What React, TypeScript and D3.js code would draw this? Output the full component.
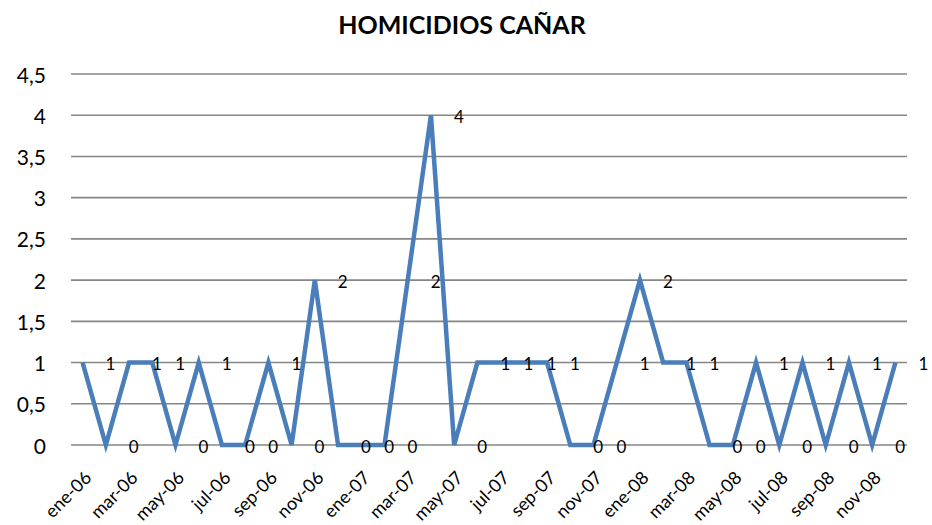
import React, { useEffect } from "react";
import * as d3 from "d3";

const months = ["ene", "feb", "mar", "abr", "may", "jun", "jul", "ago", "sep", "oct", "nov", "dic"];
const years = ["06", "07", "08"];
const categories: string[] = years.flatMap((y) => months.map((m) => `${m}-${y}`));
const values: number[] = [
  1, 0, 1, 1, 0, 1, 0, 0, 1, 0, 2, 0,
  0, 0, 2, 4, 0, 1, 1, 1, 1, 0, 0, 1,
  2, 1, 1, 0, 0, 1, 0, 1, 0, 1, 0, 1,
];
const yTicks: number[] = [0, 0.5, 1, 1.5, 2, 2.5, 3, 3.5, 4, 4.5];
const title = "HOMICIDIOS CAÑAR";

const W = 932;
const H = 525;
const FONT = "Lato, 'Open Sans', sans-serif";

export default function App() {
  useEffect(() => {
    document.body.style.margin = "0";
  }, []);

  const left = 71;
  const right = 907;
  const top = 74;
  const bottom = 445;

  const x = d3.scalePoint<string>().domain(categories).range([left, right]).padding(0.5);
  const y = d3.scaleLinear().domain([0, 4.5]).range([bottom, top]);

  const line = d3
    .line<number>()
    .x((_, i) => x(categories[i]) as number)
    .y((d) => y(d));

  const fmt = (v: number) => String(v).replace(".", ",");

  return (
    <svg width={W} height={H} style={{ display: "block", background: "#fff" }}>
      <text x={462} y={34} textAnchor="middle" fontFamily={FONT} fontWeight="bold" fontSize={25} fill="#000">
        {title}
      </text>
      {yTicks.map((t) => (
        <g key={t}>
          <line x1={left} x2={right} y1={y(t)} y2={y(t)} stroke="#868686" strokeWidth={1.6} />
          <text x={46} y={y(t)} textAnchor="end" dominantBaseline="central" fontFamily={FONT} fontSize={21} fill="#000">
            {fmt(t)}
          </text>
        </g>
      ))}
      {categories.map((c, i) =>
        i % 2 === 0 ? (
          <text
            key={c}
            transform={`translate(${(x(c) as number) + 5},${bottom + 29}) rotate(-45)`}
            textAnchor="end"
            dominantBaseline="central"
            fontFamily={FONT}
            fontSize={18}
            fill="#000"
          >
            {c}
          </text>
        ) : null
      )}
      <path d={line(values) || ""} fill="none" stroke="#4a7ebb" strokeWidth={4.5} strokeLinejoin="miter" />
      {values.map((v, i) => (
        <text
          key={i}
          x={(x(categories[i]) as number) + 23}
          y={y(v) + 1}
          dominantBaseline="central"
          fontFamily={FONT}
          fontSize={17}
          fill="#000"
        >
          {v}
        </text>
      ))}
    </svg>
  );
}
